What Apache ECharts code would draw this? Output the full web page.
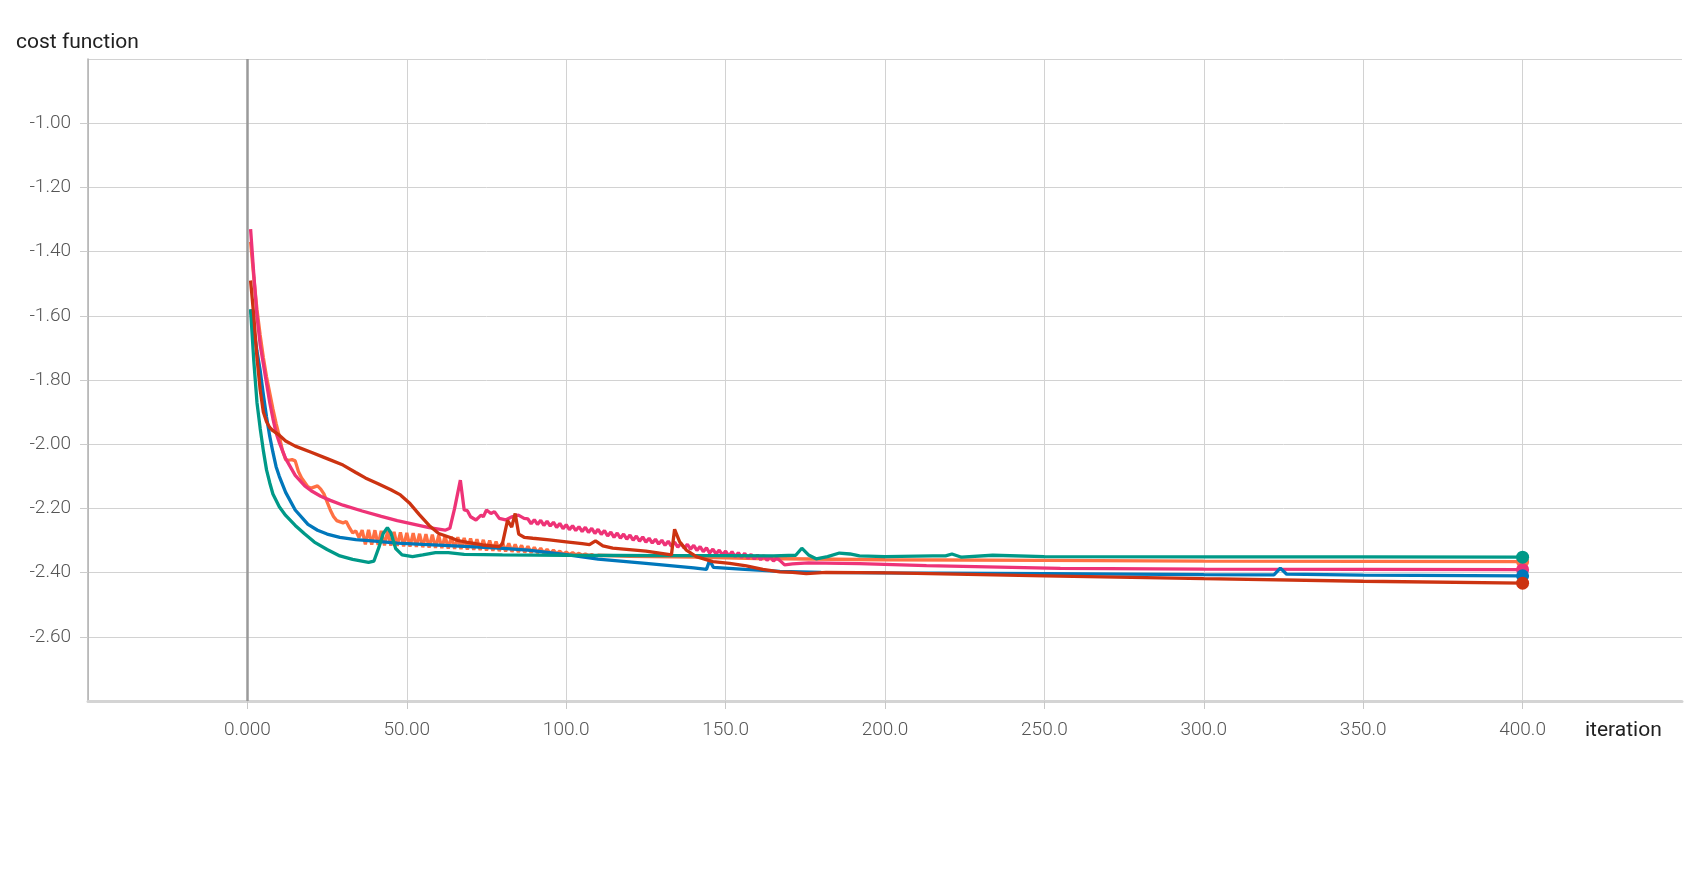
<!DOCTYPE html>
<html>
<head>
<meta charset="utf-8">
<script src="https://cdn.jsdelivr.net/npm/echarts@6/dist/echarts.min.js"></script>
<style>
html,body{margin:0;padding:0;background:#fff;}
#chart{width:1707px;height:895px;}
</style>
</head>
<body>
<div id="chart"></div>
<script>
const seriesNames = ['orange', 'pink', 'blue', 'teal', 'red'];
const seriesColors = ['#ff7043', '#ee3377', '#0077bb', '#009988', '#cc3311'];
const yAxisName = 'cost function';
const xAxisName = 'iteration';

const orangeData = [[1,-1.37],[2,-1.48],[3,-1.58],[4,-1.66],[5,-1.73],[6,-1.79],[7,-1.84],[8,-1.89],[9,-1.935],[10,-1.975],[11,-2.02],[12,-2.048],[13,-2.05],[14,-2.048],[15,-2.052],[16,-2.085],[17,-2.105],[19,-2.133],[20,-2.137],[22,-2.13],[23,-2.14],[24,-2.155],[25,-2.18],[26,-2.205],[27,-2.225],[28,-2.238],[30,-2.245],[31,-2.241],[32,-2.26],[33,-2.276],[34,-2.27],[35,-2.291],
[36,-2.268],[37,-2.312],[38,-2.267],[39,-2.313],[40,-2.268],[41,-2.314],[42,-2.270],[43,-2.315],[44,-2.271],[45,-2.316],[46,-2.273],[47,-2.317],[48,-2.275],[49,-2.318],[50,-2.276],[51,-2.319],[52,-2.277],[53,-2.320],[54,-2.279],[55,-2.321],[56,-2.280],[57,-2.322],[58,-2.282],[59,-2.323],[60,-2.284],[61,-2.324],[62,-2.286],[63,-2.325],[64,-2.288],[65,-2.326],[66,-2.290],[67,-2.327],[68,-2.292],[69,-2.328],[70,-2.294],[71,-2.329],[72,-2.296],[73,-2.330],[74,-2.298],[75,-2.331],[76,-2.300],[77,-2.332],[78,-2.303],[79,-2.333],[80,-2.306],[81,-2.334],[82,-2.309],[83,-2.335],[84,-2.312],[85,-2.336],[86,-2.315],[87,-2.337],[88,-2.318],[89,-2.338],[90,-2.321],[91,-2.339],[92,-2.324],[93,-2.340],[94,-2.327],[95,-2.341],[96,-2.330],[97,-2.342],[98,-2.333],[99,-2.343],[100,-2.336],[101,-2.344],[102,-2.338],[103,-2.345],[104,-2.340],[105,-2.346],[106,-2.342],[107,-2.347],[108,-2.344],[109,-2.348],[110,-2.346],
[120,-2.349],[140,-2.352],[160,-2.356],[200,-2.360],[250,-2.362],[300,-2.364],[350,-2.365],[400,-2.366]];

const pinkData = [[1,-1.33],[2,-1.47],[3,-1.6],[4,-1.69],[5,-1.75],[6,-1.81],[7,-1.87],[8,-1.92],[9,-1.965],[10,-1.995],[12,-2.045],[15,-2.097],[18,-2.13],[20,-2.145],[23,-2.162],[26,-2.175],[30,-2.19],[36,-2.208],[42,-2.225],[47,-2.238],[52,-2.249],[57,-2.26],[62,-2.268],[63.5,-2.262],[65,-2.2],[66.8,-2.112],[68,-2.205],[69,-2.207],[70,-2.226],[71.7,-2.236],[73.3,-2.221],[74,-2.226],[75,-2.205],[76.4,-2.216],[77.5,-2.21],[79,-2.231],[81,-2.236],[83,-2.226],[85,-2.221],[86.8,-2.231],
[88,-2.233],[89,-2.248],[90,-2.235],[91,-2.250],[92,-2.237],[93,-2.253],[94,-2.240],[95,-2.255],[96,-2.243],[97,-2.259],[98,-2.247],[99,-2.263],[100,-2.251],[101,-2.266],[102,-2.254],[103,-2.269],[104,-2.257],[105,-2.272],[106,-2.259],[107,-2.275],[108,-2.262],[109,-2.278],[110,-2.265],[111,-2.281],[112,-2.269],[113,-2.286],[114,-2.274],[115,-2.290],[116,-2.277],[117,-2.293],[118,-2.280],[119,-2.296],[120,-2.283],[121,-2.299],[122,-2.286],[123,-2.302],[124,-2.289],[125,-2.305],[126,-2.293],[127,-2.308],[128,-2.296],[129,-2.311],[130,-2.299],[131,-2.315],[132,-2.302],[133,-2.318],[134,-2.305],[135,-2.321],[136,-2.309],[137,-2.324],[138,-2.312],[139,-2.327],[140,-2.315],[141,-2.331],[142,-2.319],[143,-2.335],[144,-2.323],[145,-2.339],[146,-2.327],[147,-2.342],[148,-2.330],[149,-2.345],[150,-2.333],[151,-2.348],[152,-2.335],[153,-2.351],[154,-2.338],[155,-2.353],[156,-2.340],[157,-2.356],[158,-2.343],[159,-2.358],[160,-2.345],[161,-2.360],[162,-2.347],[163,-2.362],[164,-2.349],[165,-2.364],[166,-2.355],
[167,-2.362],[168.5,-2.376],[171,-2.373],[176,-2.370],[192,-2.372],[213,-2.378],[255,-2.387],[300,-2.389],[350,-2.390],[400,-2.391]];

const blueData = [[1,-1.58],[2,-1.64],[3,-1.71],[4,-1.77],[5,-1.845],[6,-1.915],[7,-1.975],[8,-2.025],[9,-2.07],[10,-2.1],[12,-2.15],[15,-2.205],[19,-2.25],[22,-2.268],[25,-2.28],[29,-2.29],[34,-2.297],[40,-2.302],[47,-2.308],[55,-2.312],[68,-2.318],[79,-2.324],[88,-2.33],[100,-2.344],[110,-2.358],[125,-2.371],[140,-2.385],[144,-2.39],[145,-2.362],[146.2,-2.384],[156,-2.39],[167,-2.396],[180,-2.399],[200,-2.401],[250,-2.403],[300,-2.406],[322,-2.407],[324,-2.386],[326,-2.405],[350,-2.408],[400,-2.41]];

const tealData = [[1,-1.58],[2,-1.74],[3,-1.87],[4,-1.95],[5,-2.02],[6,-2.08],[7,-2.12],[8,-2.155],[10,-2.195],[12,-2.222],[15,-2.253],[18,-2.28],[21,-2.305],[25,-2.328],[29,-2.348],[33,-2.359],[38,-2.368],[39.7,-2.364],[41.3,-2.32],[42.6,-2.278],[43.9,-2.26],[45,-2.276],[46.5,-2.325],[48.5,-2.345],[51.8,-2.35],[55,-2.345],[59,-2.338],[63,-2.338],[68,-2.343],[80,-2.345],[100,-2.346],[130,-2.347],[150,-2.347],[165,-2.348],[172,-2.346],[173.9,-2.324],[176,-2.345],[178.4,-2.357],[182,-2.35],[185.7,-2.339],[189,-2.342],[192,-2.348],[200,-2.35],[215,-2.348],[219,-2.348],[221,-2.342],[224,-2.352],[233.8,-2.346],[250,-2.35],[300,-2.351],[350,-2.351],[400,-2.352]];

const redData = [[1,-1.49],[2,-1.6],[3,-1.73],[4,-1.83],[5,-1.9],[6,-1.93],[7,-1.948],[8,-1.958],[10,-1.972],[12,-1.99],[15,-2.006],[20,-2.025],[25,-2.045],[30,-2.065],[34,-2.088],[37,-2.105],[41,-2.123],[45,-2.142],[48,-2.158],[51,-2.185],[54,-2.22],[57,-2.253],[60,-2.278],[63.4,-2.29],[66,-2.3],[69,-2.306],[73.8,-2.314],[79,-2.319],[80,-2.31],[81.6,-2.237],[82.9,-2.258],[84,-2.216],[85.1,-2.28],[86.8,-2.29],[89.5,-2.293],[94.7,-2.298],[100,-2.304],[105,-2.31],[107.3,-2.313],[109.2,-2.301],[111.5,-2.317],[114.6,-2.324],[125,-2.333],[133,-2.345],[133.6,-2.345],[134,-2.265],[135.6,-2.304],[137.7,-2.33],[140.8,-2.35],[146,-2.366],[151.3,-2.371],[156.5,-2.379],[161.7,-2.39],[167,-2.398],[171,-2.399],[175.3,-2.403],[181.5,-2.399],[202,-2.401],[250,-2.41],[300,-2.419],[350,-2.427],[400,-2.433]];

const allData = [orangeData, pinkData, blueData, tealData, redData];

const chart = echarts.init(document.getElementById('chart'), null, {renderer: 'canvas'});
const labelFont = 'Roboto, "Liberation Sans", sans-serif';

const series = allData.map((d, i) => ({
  name: seriesNames[i],
  type: 'line',
  data: d,
  z: 2 + i,
  showSymbol: true,
  showAllSymbol: true,
  symbol: (v, p) => (p.dataIndex === d.length - 1 ? 'circle' : 'none'),
  symbolSize: 13,
  lineStyle: {color: seriesColors[i], width: 3.3},
  itemStyle: {color: seriesColors[i]},
  emphasis: {disabled: true},
  animation: false
}));
series[0].markLine = {
  silent: true,
  symbol: 'none',
  label: {show: false},
  lineStyle: {color: '#9a9a9a', width: 2.5, type: 'solid'},
  data: [{xAxis: 0}],
  z: 1
};

chart.setOption({
  animation: false,
  backgroundColor: '#ffffff',
  grid: {left: 88, right: 25, top: 59, bottom: 194, containLabel: false},
  xAxis: {
    type: 'value',
    min: -50, max: 450, interval: 50,
    axisLine: {show: true, onZero: false, lineStyle: {color: '#d4d4d4', width: 3}},
    axisTick: {show: true, length: 8, lineStyle: {color: '#c8c8c8', width: 1}},
    axisLabel: {
      show: true, margin: 20, fontSize: 19, color: '#555', fontFamily: labelFont, fontWeight: 300,
      showMinLabel: false, showMaxLabel: false,
      formatter: v => Number(v).toPrecision(4)
    },
    splitLine: {show: true, showMaxLine: false, lineStyle: {color: '#d2d2d2', width: 1}}
  },
  yAxis: {
    type: 'value',
    min: -2.8, max: -0.8, interval: 0.2,
    axisLine: {show: true, onZero: false, lineStyle: {color: '#b0b0b0', width: 1.5}},
    axisTick: {show: true, length: 8, lineStyle: {color: '#cccccc', width: 1}},
    axisLabel: {
      show: true, margin: 17, fontSize: 19, color: '#555', fontFamily: labelFont, fontWeight: 300,
      showMinLabel: false, showMaxLabel: false,
      formatter: v => Number(v).toFixed(2)
    },
    splitLine: {show: true, lineStyle: {color: '#d2d2d2', width: 1}}
  },
  graphic: [
    {type: 'text', left: 16, top: 32, silent: true,
     style: {text: yAxisName, fontSize: 21, fill: '#212121', fontFamily: labelFont}},
    {type: 'text', left: 1585, top: 720, silent: true,
     style: {text: xAxisName, fontSize: 21, fill: '#212121', fontFamily: labelFont}}
  ],
  series: series
});
</script>
</body>
</html>
